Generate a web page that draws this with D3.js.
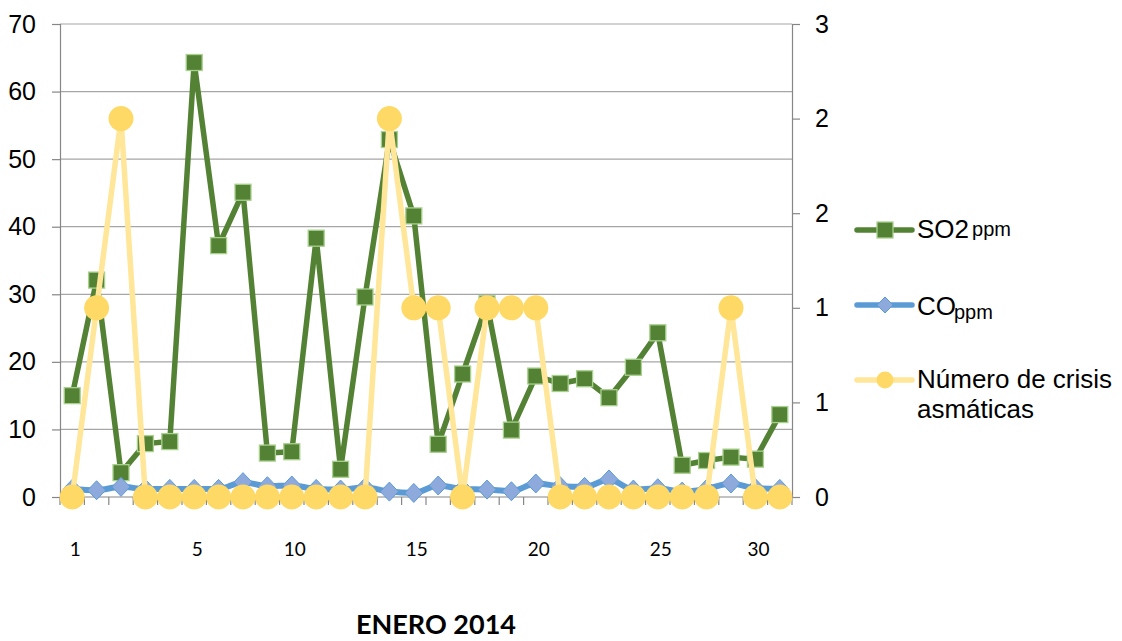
<!DOCTYPE html>
<html>
<head>
<meta charset="utf-8">
<script src="https://cdn.jsdelivr.net/npm/d3@7"></script>
<style>
  html, body { margin: 0; padding: 0; background: #ffffff; }
  svg { display: block; }
  text { font-family: "Liberation Sans", Arial, sans-serif; fill: #000; }
</style>
</head>
<body>
<svg id="chart" width="1122" height="641"></svg>
<script>
// Daily readings, January 2014 (30 readings)
const dayLabels = ["1","","","","","5","","","","10","","","","","15","","","","","20","","","","","25","","","","30",""];
const so2 = [15, 32.1, 3.6, 7.9, 8.2, 64.3, 37.2, 45.1, 6.5, 6.7, 38.3, 4.1, 29.6, 52.9, 41.6, 7.8, 18.2, 28.6, 9.9, 17.9, 16.8, 17.5, 14.7, 19.2, 24.3, 4.7, 5.4, 5.9, 5.6, 12.2];
const co = [1.2, 1.0, 1.5, 1.2, 1.2, 1.2, 1.2, 2.2, 1.6, 1.7, 1.2, 1.1, 1.4, 0.8, 0.6, 1.7, 1.2, 1.1, 0.85, 2.0, 1.6, 1.5, 2.6, 1.1, 1.3, 0.8, 1.2, 2.0, 1.3, 1.2];
const crisis = [0, 1, 2, 0, 0, 0, 0, 0, 0, 0, 0, 0, 0, 2, 1, 1, 0, 1, 1, 1, 0, 0, 0, 0, 0, 0, 0, 1, 0, 0];
const leftTicks = [0, 10, 20, 30, 40, 50, 60, 70];
const rightTicks = [0, 0.5, 1, 1.5, 2, 2.5];
const seriesNames = ["SO2", "CO", "Número de crisis asmáticas"];
const title = "ENERO 2014";

const svg = d3.select("#chart");
const plot = { left: 60, right: 792, top: 24, bottom: 497 };

const idx = d3.range(so2.length);
const x = d3.scaleBand().domain(idx).range([plot.left, plot.right]);
const cx = i => x(i) + x.bandwidth() / 2;
const yL = d3.scaleLinear().domain([0, 70]).range([plot.bottom, plot.top]);
const yR = d3.scaleLinear().domain([0, 2.5]).range([plot.bottom, plot.top]);

const gridColor = "#a6a6a6";
const axisColor = "#868686";

// horizontal gridlines on the primary axis
svg.append("g")
  .selectAll("line")
  .data(leftTicks.filter(t => t > 0))
  .join("line")
  .attr("x1", plot.left).attr("x2", plot.right)
  .attr("y1", d => yL(d)).attr("y2", d => yL(d))
  .attr("stroke", gridColor).attr("stroke-width", 1.2);

// left axis
const gLeft = svg.append("g").attr("transform", `translate(${plot.left},0)`)
  .call(d3.axisLeft(yL).tickValues(leftTicks).tickSize(8).tickPadding(16).tickFormat(d3.format("d")));
gLeft.select(".domain").attr("stroke", axisColor).attr("stroke-width", 1.2);
gLeft.selectAll(".tick line").attr("stroke", axisColor).attr("stroke-width", 1.2);
gLeft.selectAll(".tick text").style("font-size", "25px").attr("font-family", null).attr("fill", "#000");

// right axis (crisis count), labels rounded to whole numbers
const gRight = svg.append("g").attr("transform", `translate(${plot.right},0)`)
  .call(d3.axisRight(yR).tickValues(rightTicks).tickSize(8).tickPadding(15)
    .tickFormat(d => String(Math.round(d + 1e-9))));
gRight.select(".domain").attr("stroke", axisColor).attr("stroke-width", 1.2);
gRight.selectAll(".tick line").attr("stroke", axisColor).attr("stroke-width", 1.2);
gRight.selectAll(".tick text").style("font-size", "25px").attr("font-family", null).attr("fill", "#000");

// bottom axis line with tick marks between categories
svg.append("line")
  .attr("x1", plot.left).attr("x2", plot.right)
  .attr("y1", plot.bottom).attr("y2", plot.bottom)
  .attr("stroke", axisColor).attr("stroke-width", 1.2);
svg.append("g")
  .selectAll("line")
  .data(d3.range(so2.length + 1))
  .join("line")
  .attr("x1", i => plot.left + i * x.step()).attr("x2", i => plot.left + i * x.step())
  .attr("y1", plot.bottom).attr("y2", plot.bottom + 8)
  .attr("stroke", axisColor).attr("stroke-width", 1.2);

// day labels
const gBottom = svg.append("g").attr("transform", `translate(0,${plot.bottom})`)
  .call(d3.axisBottom(x).tickSize(0).tickPadding(46).tickFormat(i => dayLabels[i]));
gBottom.select(".domain").remove();
gBottom.selectAll(".tick text")
  .attr("font-family", null)
  .style("font-family", "Lato, 'Open Sans', sans-serif")
  .style("font-size", "19px")
  .attr("dx", 3)
  .attr("fill", "#000");

// colours
const green = "#548235", greenEdge = "#a9d18e";
const blue = "#5b9bd5", blueFill = "#8eaadc";
const yellowLine = "#ffe699", yellowDot = "#ffd966";

// SO2 series
svg.append("path")
  .datum(so2)
  .attr("fill", "none").attr("stroke", green).attr("stroke-width", 5.5)
  .attr("stroke-linejoin", "round").attr("stroke-linecap", "round")
  .attr("d", d3.line().x((d, i) => cx(i)).y(d => yL(d)));
svg.append("g").selectAll("rect")
  .data(so2)
  .join("rect")
  .attr("x", (d, i) => cx(i) - 8).attr("y", d => yL(d) - 8)
  .attr("width", 16).attr("height", 16)
  .attr("fill", green).attr("stroke", greenEdge).attr("stroke-width", 1.3);

// CO series (smoothed)
const diamond = (px, py, w, h) => `M${px},${py - h / 2}L${px + w / 2},${py}L${px},${py + h / 2}L${px - w / 2},${py}Z`;
svg.append("path")
  .datum(co)
  .attr("fill", "none").attr("stroke", blue).attr("stroke-width", 6)
  .attr("stroke-linejoin", "round").attr("stroke-linecap", "round")
  .attr("d", d3.line().curve(d3.curveMonotoneX).x((d, i) => cx(i)).y(d => yL(d)));
svg.append("g").selectAll("path")
  .data(co)
  .join("path")
  .attr("d", (d, i) => diamond(cx(i), yL(d), 18, 19))
  .attr("fill", blueFill).attr("stroke", blue).attr("stroke-width", 1);

// asthma crisis count (secondary axis)
svg.append("path")
  .datum(crisis)
  .attr("fill", "none").attr("stroke", yellowLine).attr("stroke-width", 5.5)
  .attr("stroke-linejoin", "round").attr("stroke-linecap", "round")
  .attr("d", d3.line().x((d, i) => cx(i)).y(d => yR(d)));
svg.append("g").selectAll("circle")
  .data(crisis)
  .join("circle")
  .attr("cx", (d, i) => cx(i)).attr("cy", d => yR(d))
  .attr("r", 12.5)
  .attr("fill", yellowDot);

// legend
const lg = svg.append("g");
const lx0 = 857, lx1 = 912, mx = 885, tx = 917;

// SO2 entry
lg.append("line").attr("x1", lx0).attr("x2", lx1).attr("y1", 230).attr("y2", 230)
  .attr("stroke", green).attr("stroke-width", 5.5).attr("stroke-linecap", "round");
lg.append("rect").attr("x", mx - 8).attr("y", 222).attr("width", 16).attr("height", 16)
  .attr("fill", green).attr("stroke", greenEdge).attr("stroke-width", 1.3);
const t1 = lg.append("text").attr("x", tx).attr("y", 238).style("font-size", "26px");
t1.append("tspan").text(seriesNames[0]);
t1.append("tspan").attr("dx", 3).attr("dy", -2.5).style("font-size", "20px").text("ppm");

// CO entry
lg.append("line").attr("x1", lx0).attr("x2", lx1).attr("y1", 305).attr("y2", 305)
  .attr("stroke", blue).attr("stroke-width", 5.5).attr("stroke-linecap", "round");
lg.append("path").attr("d", diamond(mx, 305, 16, 16))
  .attr("fill", blueFill).attr("stroke", blue).attr("stroke-width", 1);
const t2 = lg.append("text").attr("x", tx).attr("y", 315).style("font-size", "26px");
t2.append("tspan").text(seriesNames[1]);
t2.append("tspan").attr("dx", -2).attr("dy", 3.5).style("font-size", "20px").text("ppm");

// crisis entry
lg.append("line").attr("x1", lx0).attr("x2", lx1).attr("y1", 380).attr("y2", 380)
  .attr("stroke", yellowLine).attr("stroke-width", 5.5).attr("stroke-linecap", "round");
lg.append("circle").attr("cx", mx).attr("cy", 380).attr("r", 8.5).attr("fill", yellowDot);
const words = seriesNames[2].split(" ");
const t3 = lg.append("text").attr("x", tx).attr("y", 388).style("font-size", "26px");
t3.append("tspan").attr("x", tx).text(words.slice(0, 3).join(" "));
t3.append("tspan").attr("x", tx).attr("dy", 30).text(words.slice(3).join(" "));

// title below the chart
svg.append("text")
  .attr("x", 436).attr("y", 634)
  .attr("text-anchor", "middle")
  .style("font-family", "Lato, 'Open Sans', sans-serif")
  .style("font-weight", "bold")
  .style("font-size", "27px")
  .text(title);
</script>
</body>
</html>
